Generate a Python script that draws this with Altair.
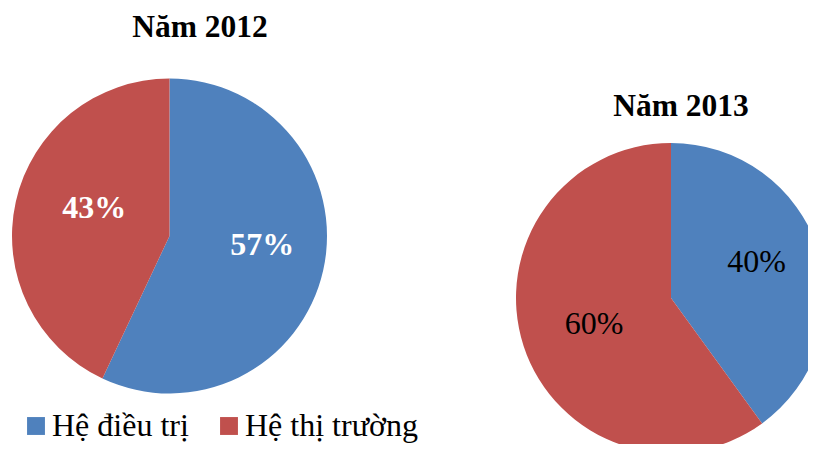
import altair as alt
import pandas as pd

categories = ["Hệ điều trị", "Hệ thị trường"]
colors = ["#4F81BD", "#C0504D"]
years = ["Năm 2012", "Năm 2013"]
values_2012 = [57, 43]
values_2013 = [40, 60]

rows = []
for y, vals in zip(years, [values_2012, values_2013]):
    for i, (c, v) in enumerate(zip(categories, vals)):
        rows.append({"year": y, "cat": c, "value": v, "idx": i, "label": f"{v}%"})
df = pd.DataFrame(rows)

FONT = "Liberation Serif"
W, H = 800, 436

color = alt.Color(
    "cat:N",
    scale=alt.Scale(domain=categories, range=colors),
    sort=categories,
    legend=alt.Legend(
        title=None, orient="none", legendX=12, legendY=402, direction="horizontal",
        symbolType="square", symbolSize=320, symbolStrokeWidth=0,
        labelFont=FONT, labelFontSize=32, labelColor="black", labelOffset=0,
        columnPadding=24, padding=0, labelLimit=400,
    ),
)

# label placement inside slices (radius from centre, vertical nudge), per category
LABEL_R = {"Năm 2012": [95, 77], "Năm 2013": [90, 81]}
LABEL_DY = {"Năm 2012": [-12, -11], "Năm 2013": [-8, 1]}


def pie(year, cx, cy, r, label_color, bold):
    base = alt.Chart(df).transform_filter(alt.datum.year == year)
    arcs = base.mark_arc(radius=r, stroke=None).encode(
        theta=alt.Theta("value:Q", stack=True),
        color=color,
        order=alt.Order("idx:Q"),
        x=alt.value(cx), y=alt.value(cy),
    )
    layers = [arcs]
    for i in range(len(categories)):
        lab = base.mark_text(
            radius=LABEL_R[year][i], dy=LABEL_DY[year][i], font=FONT, fontSize=32,
            fontWeight="bold" if bold else "normal", color=label_color,
            align="center", baseline="middle",
        ).encode(
            theta=alt.Theta("value:Q", stack=True),
            order=alt.Order("idx:Q"),
            text="label:N",
            opacity=alt.condition(alt.datum.idx == i, alt.value(1), alt.value(0)),
            x=alt.value(cx), y=alt.value(cy),
        )
        layers.append(lab)
    return alt.layer(*layers)


def title(text, tx, ty):
    return alt.Chart(pd.DataFrame({"t": [text]})).mark_text(
        font=FONT, fontSize=31.5, fontWeight="bold", color="black",
        align="center", baseline="alphabetic",
    ).encode(text="t:N", x=alt.value(tx), y=alt.value(ty))


chart = alt.layer(
    pie("Năm 2012", 161.5, 228, 157.5, "white", True),
    pie("Năm 2013", 663, 290, 155, "black", False),
    title("Năm 2012", 192, 29),
    title("Năm 2013", 673, 108),
).properties(
    width=W, height=H, autosize=alt.AutoSizeParams(type="none"), padding=0,
).configure(background="white").configure_view(stroke=None)

chart.save("out.html", embed_options={"renderer": "svg", "actions": False})
